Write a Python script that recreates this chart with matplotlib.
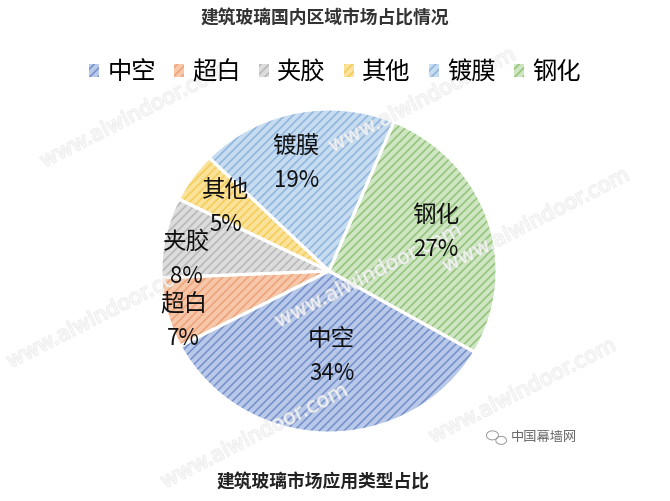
import matplotlib.pyplot as plt
import matplotlib.patheffects as pe
from matplotlib.patches import Patch, Circle
import numpy as np

plt.rcParams['font.family'] = ['Noto Sans CJK SC', 'DejaVu Sans']
plt.rcParams['hatch.linewidth'] = 1.2

# 数据
categories = ['中空', '超白', '夹胶', '其他', '镀膜', '钢化']
values = [34, 7, 8, 5, 19, 27]
title_top = '建筑玻璃国内区域市场占比情况'
title_bottom = '建筑玻璃市场应用类型占比'

# 底色 + 斜线颜色
base_colors = ['#b9c9e9', '#f6c7a8', '#dcdcdc', '#fbe29a', '#c6dcf1', '#cfe6c2']
line_colors = ['#7892cc', '#eda47c', '#b9b9b9', '#f2cd5a', '#92b6dc', '#96c47f']

fig = plt.figure(figsize=(6.7, 5.01), dpi=100)

ax = fig.add_axes([0.2403, 0.1357, 0.5015, 0.6467])
ax.patch.set_alpha(0)

startangle = -30
# 底色
ax.pie(values, startangle=startangle, counterclock=False, colors=base_colors,
       wedgeprops=dict(linewidth=0))
# 斜线
wedges, _ = ax.pie(values, startangle=startangle, counterclock=False,
                   wedgeprops=dict(facecolor='none', linewidth=0))
for w, c in zip(wedges, line_colors):
    w.set_hatch('////')
    w.set_edgecolor(c)
    w.set_linewidth(0)
# 白色分隔线
ax.pie(values, startangle=startangle, counterclock=False,
       wedgeprops=dict(facecolor='none', edgecolor='white', linewidth=2.2))
ax.set_aspect('auto')
ax.set_xlim(-1, 1)
ax.set_ylim(-1, 1)

# 水印
for cx, cy in [(0.20, 0.77), (0.63, 0.80), (0.80, 0.56), (0.15, 0.37),
               (0.55, 0.45), (0.38, 0.13), (0.78, 0.22)]:
    fig.text(cx, cy, 'www.alwindoor.com', rotation=27, fontsize=15, color='white',
             alpha=0.5, ha='center', va='center', family='DejaVu Sans', zorder=5,
             path_effects=[pe.withStroke(linewidth=1.2, foreground='#dcdcdc')])

# 标签位置 (半径, 角度偏移)
label_pos = [(0.53, 3), (0.92, 5), (0.85, 7), (0.73, 3), (0.69, 5), (0.68, 2)]
angles = startangle - np.cumsum([0] + values[:-1]) * 3.6 - np.array(values) * 1.8
for cat, v, a, (r, da) in zip(categories, values, angles, label_pos):
    t = np.deg2rad(a + da)
    x, y = r * np.cos(t), r * np.sin(t)
    fig.text(x, y + 0.105, cat, transform=ax.transData, ha='center', va='center',
             fontsize=17, color='#111111', zorder=6)
    fig.text(x, y - 0.105, f'{v}%', transform=ax.transData, ha='center', va='center',
             fontsize=16, color='#111111', zorder=6)

fig.text(0.485, 0.962, title_top, ha='center', va='center', fontsize=12.8,
         fontweight='bold', color='#333333', zorder=6)
fig.text(0.482, 0.036, title_bottom, ha='center', va='center', fontsize=12.8,
         fontweight='bold', color='#222222', zorder=6)

handles = [Patch(facecolor=b, edgecolor=l, hatch='////', linewidth=0)
           for b, l in zip(base_colors, line_colors)]
leg = fig.legend(handles, categories, loc='center', bbox_to_anchor=(0.5, 0.856), ncol=6,
                 frameon=False, fontsize=17.5, handlelength=0.4, handleheight=0.4,
                 handletextpad=0.35, columnspacing=0.75)
leg.set_zorder(6)

# 右下角标识
fig.text(0.762, 0.127, '中国幕墙网', fontsize=9.5, color='#666666', va='center', zorder=6)
fig.patches.append(Circle((0.735, 0.131), 0.009, transform=fig.transFigure,
                          fill=False, edgecolor='#999999', linewidth=0.7))
fig.patches.append(Circle((0.748, 0.121), 0.008, transform=fig.transFigure,
                          fill=False, edgecolor='#999999', linewidth=0.7))

fig.savefig('out.png', dpi=100)
